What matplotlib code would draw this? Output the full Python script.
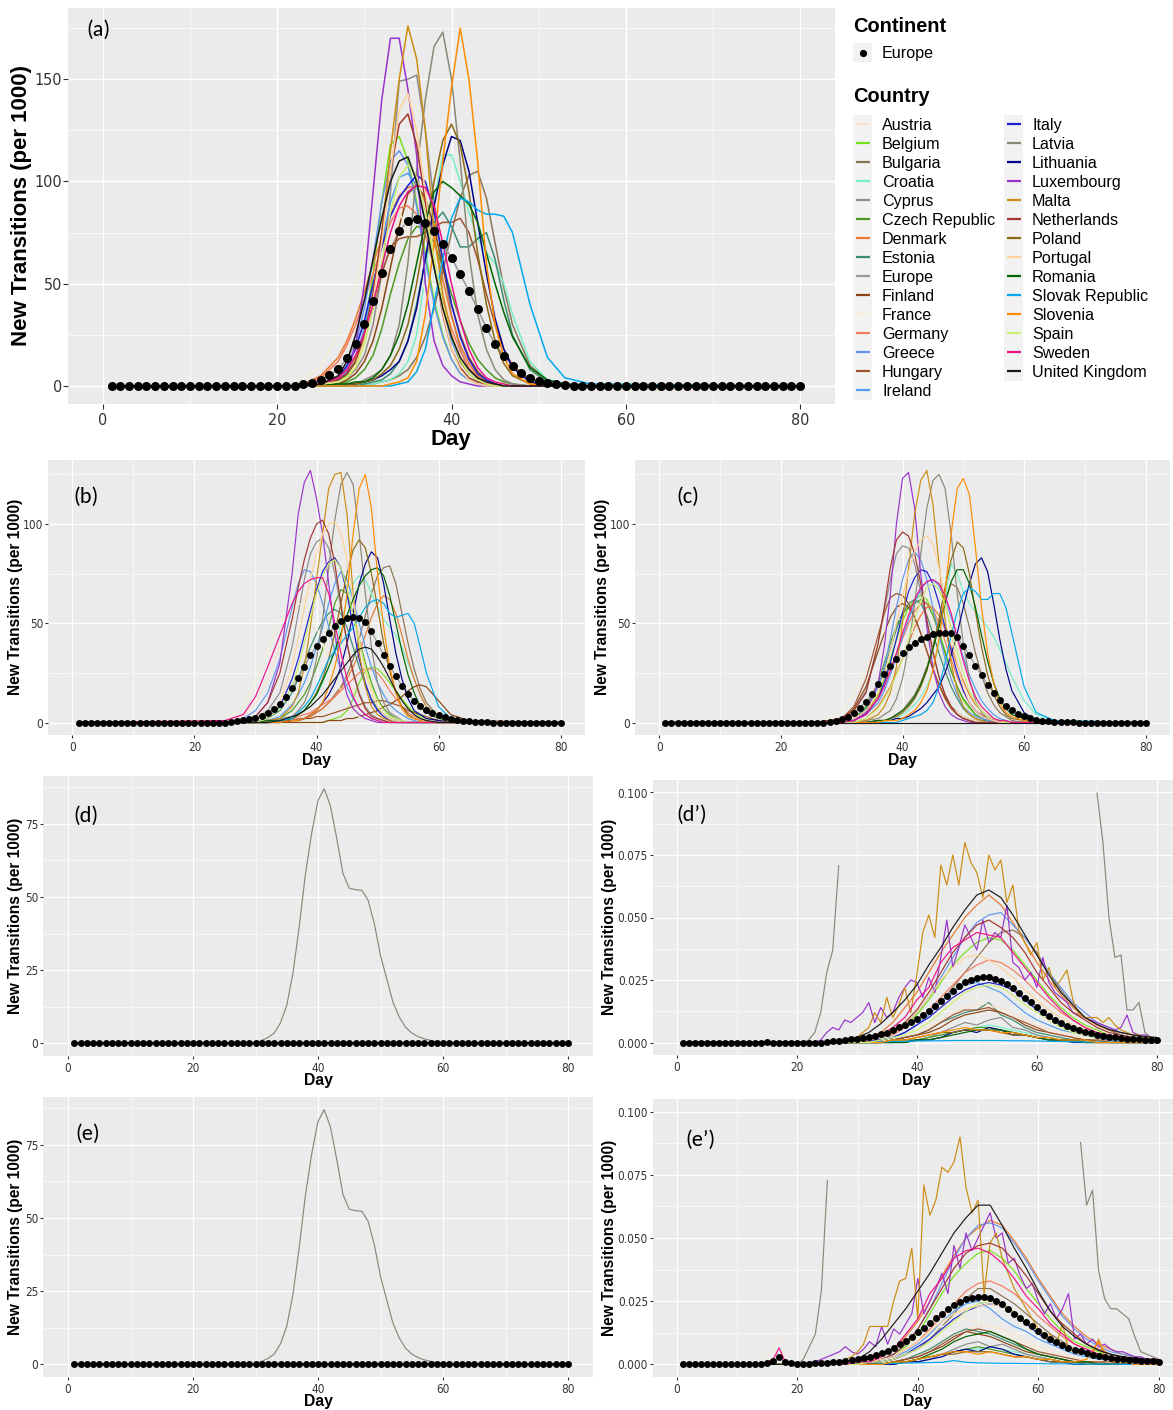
import numpy as np
import matplotlib
matplotlib.use("Agg")
import matplotlib.pyplot as plt
from matplotlib import font_manager as fm
from matplotlib.patches import Rectangle

W, H = 1173, 1410

COUNTRIES = ["Austria", "Belgium", "Bulgaria", "Croatia", "Cyprus", "Czech Republic",
             "Denmark", "Estonia", "Europe", "Finland", "France", "Germany", "Greece",
             "Hungary", "Ireland", "Italy", "Latvia", "Lithuania", "Luxembourg", "Malta",
             "Netherlands", "Poland", "Portugal", "Romania", "Slovak Republic", "Slovenia",
             "Spain", "Sweden", "United Kingdom"]

COLORS = {
    "Austria": "#FCE3CF", "Belgium": "#76E21A", "Bulgaria": "#8B7355", "Croatia": "#76EEC6",
    "Cyprus": "#8C8C8C", "Czech Republic": "#4A9A22", "Denmark": "#E8782E", "Estonia": "#3C8C70",
    "Europe": "#999999", "Finland": "#8B4513", "France": "#F5EFD6", "Germany": "#F47B5E",
    "Greece": "#6495ED", "Hungary": "#A0522D", "Ireland": "#529CF2", "Italy": "#1E1ED2",
    "Latvia": "#8B8878", "Lithuania": "#00008B", "Luxembourg": "#9A32CD", "Malta": "#CD8C12",
    "Netherlands": "#A3362E", "Poland": "#8B6914", "Portugal": "#FFD39B", "Romania": "#006400",
    "Slovak Republic": "#00A8EE", "Slovenia": "#FF8C00", "Spain": "#CAEE70", "Sweden": "#EE1289",
    "United Kingdom": "#1A1A1A",
}

DAYS = list(range(1, 81))

# ---------------- panel (a) ----------------
A_GRID = [21, 23, 25, 27, 28, 29, 30, 31, 32, 33, 34, 35, 36, 37, 38, 39, 40, 41, 42, 43,
          44, 45, 46, 47, 49, 51, 53, 56]
A = {
    "Austria":        [0,0,1,2,3,8,15,28,45,65, 82,93,95,86,68,48,30,17,9,4, 2,1,0,0,0,0,0,0],
    "Belgium":        [0,0,1,3,5,12,28,55,90,118, 122,110,90,65,42,25,13,6,3,1, 0,0,0,0,0,0,0,0],
    "Bulgaria":       [0,0,0,0,0,0,1,1,2,3, 5,8,14,24,38,56,75,92,103,105, 92,70,48,30,10,3,1,0],
    "Croatia":        [0,0,0,0,0,0,1,1,2,3, 6,12,25,55,90,113,113,100,85,72, 65,60,50,35,12,3,1,0],
    "Cyprus":         [0,0,0,2,4,8,15,30,55,95, 149,150,152,125,90,60,35,18,8,4, 2,1,0,0,0,0,0,0],
    "Czech Republic": [0,0,0,1,2,4,8,15,28,45, 60,72,78,77,70,58,45,32,21,13, 8,4,2,1,0,0,0,0],
    "Denmark":        [0,1,5,14,22,33,46,60,72,84, 93,97,98,90,72,52,34,20,11,5, 2,1,0,0,0,0,0,0],
    "Estonia":        [0,0,0,0,0,0,1,2,3,6, 12,22,40,62,80,85,78,68,68,72, 75,62,42,25,8,2,0,0],
    "Finland":        [0,0,0,1,3,6,12,22,38,58, 78,94,98,92,78,58,40,25,14,7, 3,1,0,0,0,0,0,0],
    "France":         [0,3,10,25,36,50,65,78,86,88, 85,76,62,46,32,20,12,6,3,1, 0,0,0,0,0,0,0,0],
    "Germany":        [0,1,4,12,20,30,42,55,68,80, 87,88,84,74,58,42,28,17,9,4, 2,1,0,0,0,0,0,0],
    "Greece":         [0,0,1,4,9,20,38,62,90,110, 115,108,88,62,40,24,13,6,3,1, 0,0,0,0,0,0,0,0],
    "Hungary":        [0,0,1,3,6,12,22,38,55,68, 72,73,73,75,78,80,80,82,75,62, 45,30,18,10,3,1,0,0],
    "Ireland":        [0,0,1,3,7,14,28,48,70,90, 102,104,98,80,58,38,22,12,6,3, 1,0,0,0,0,0,0,0],
    "Italy":          [0,0,1,4,10,18,32,50,68,83, 92,98,103,100,85,62,40,24,13,6, 3,1,0,0,0,0,0,0],
    "Latvia":         [0,0,0,0,0,1,3,5,8,15, 30,60,105,140,166,173,150,110,65,35, 18,8,3,1,0,0,0,0],
    "Lithuania":      [0,0,0,0,1,1,2,3,5,8, 12,22,38,62,88,108,122,120,105,80, 55,33,18,9,2,0,0,0],
    "Luxembourg":     [0,0,1,3,6,20,50,95,140,170, 170,145,113,50,22,10,5,2,1,0, 0,0,0,0,0,0,0,0],
    "Malta":          [0,0,1,4,8,14,25,45,75,115, 150,176,160,125,75,45,25,12,6,3, 1,0,0,0,0,0,0,0],
    "Netherlands":    [0,0,1,3,6,12,25,45,75,105, 128,133,118,90,60,35,18,9,4,2, 1,0,0,0,0,0,0,0],
    "Poland":         [0,0,0,0,1,1,2,3,6,10, 18,30,50,75,100,120,128,118,95,65, 40,22,11,5,1,0,0,0],
    "Portugal":       [0,0,1,2,4,10,22,42,70,105, 135,143,125,95,62,36,18,8,3,1, 0,0,0,0,0,0,0,0],
    "Romania":        [0,0,0,1,1,2,2,4,8,15, 25,40,60,80,95,100,97,93,89,80, 65,50,36,24,9,3,1,0],
    "Slovak Republic":[0,0,0,0,0,0,0,0,0,0, 1,2,7,18,40,62,82,92,90,86, 84,84,83,75,40,14,4,1],
    "Slovenia":       [0,0,0,0,0,0,0,0,0,1, 2,4,12,35,70,110,146,175,150,110, 60,30,14,6,1,0,0,0],
    "Spain":          [0,0,1,2,4,9,20,38,60,85, 102,108,102,85,62,40,24,13,6,3, 1,0,0,0,0,0,0,0],
    "Sweden":         [0,0,1,4,8,15,26,40,58,75, 88,95,98,97,88,70,50,32,18,9, 4,2,1,0,0,0,0,0],
    "United Kingdom": [0,0,1,5,12,25,42,62,82,100, 110,112,100,80,58,38,24,14,8,4, 2,1,0,0,0,0,0,0],
}
A_EUROPE = [0] * 22 + [0.8, 1.6, 2.9, 5.4, 8.2, 13.5, 20.4, 30.2, 41.6, 55.4,
                       66.9, 75.8, 80.7, 81.5, 79.9, 75.8, 69.3, 62.8, 54.6, 46.5,
                       37.5, 28.5, 20.4, 14.7, 9.8, 6.5, 4.1, 2.4, 1.6, 0.8,
                       0.4, 0.2] + [0] * 26

# ---------------- panels (b) and (c) ----------------
BC_GRID = [25, 28, 30, 32, 34, 36, 37, 38, 39, 40, 41, 42, 43, 44, 45, 46, 47, 48, 49, 50,
           51, 52, 53, 54, 55, 56, 57, 58, 60, 62, 65]
B = {
    "Austria":        [1,3,10,22,38,53,59,63,65,64, 60,52,42,32,23,16,10,6,4,2, 1,0,0,0,0,0,0,0,0,0, 0],
    "Belgium":        [0,0,0,0,0,0,0,0,0,0, 0,1,2,3,6,12,20,26,28,27, 24,20,16,12,8,5,3,2,1,0, 0],
    "Bulgaria":       [0,0,0,0,1,1,2,2,3,5, 7,10,14,18,24,32,42,54,65,74, 78,79,70,55,40,27,17,10,3,1, 0],
    "Croatia":        [0,0,0,0,1,2,4,6,10,14, 20,28,38,50,62,70,74,72,65,58, 52,48,44,38,30,22,14,8,3,1, 0],
    "Cyprus":         [0,1,2,6,15,38,55,72,85,91, 93,88,75,58,40,26,15,8,4,2, 1,0,0,0,0,0,0,0,0,0, 0],
    "Czech Republic": [0,0,0,0,2,6,10,14,20,28, 37,48,60,67,65,55,42,30,20,12, 7,4,2,1,0,0,0,0,0,0, 0],
    "Denmark":        [0,0,0,0,1,1,2,2,3,5, 7,10,13,17,22,28,35,44,53,60, 64,62,55,44,32,22,14,8,3,1, 0],
    "Estonia":        [0,0,0,2,6,15,22,30,38,45, 51,55,57,55,48,38,28,19,12,7, 4,2,1,0,0,0,0,0,0,0, 0],
    "Finland":        [0,0,0,0,0,0,0,0,0,0, 0,1,1,1,2,2,3,4,5,6, 8,9,11,13,16,18,19,18,11,4, 1],
    "France":         [1,8,20,36,51,59,60,59,55,48, 40,31,23,16,10,6,3,2,1,0, 0,0,0,0,0,0,0,0,0,0, 0],
    "Germany":        [0,0,0,0,1,2,3,4,5,7, 9,11,13,16,19,22,25,27,27,25, 21,16,12,8,5,3,2,1,0,0, 0],
    "Greece":         [0,2,6,15,32,58,70,77,76,70, 60,48,36,26,18,12,7,4,2,1, 0,0,0,0,0,0,0,0,0,0, 0],
    "Hungary":        [0,0,0,0,0,1,1,2,2,3, 3,4,5,6,7,8,9,10,10,11, 11,10,9,8,6,5,4,3,1,0, 0],
    "Ireland":        [0,0,0,1,3,9,14,20,28,38, 48,60,70,76,72,62,50,38,28,20, 14,9,6,4,2,1,0,0,0,0, 0],
    "Italy":          [0,0,0,2,8,22,32,44,56,67, 76,81,83,78,65,48,32,20,11,6, 3,1,0,0,0,0,0,0,0,0, 0],
    "Latvia":         [0,0,0,1,2,3,6,10,18,32, 52,78,102,120,126,120,95,65,38,20, 10,5,3,1,0,0,0,0,0,0, 0],
    "Lithuania":      [0,0,0,0,0,1,1,2,4,6, 10,14,20,28,40,55,70,80,86,83, 70,52,35,22,12,6,4,2,1,0, 0],
    "Luxembourg":     [0,1,3,10,30,75,105,121,127,113, 95,70,45,26,14,7,4,2,1,0, 0,0,0,0,0,0,0,0,0,0, 0],
    "Malta":          [0,0,0,1,2,8,15,28,48,72, 95,118,125,126,105,65,35,18,8,4, 2,1,0,0,0,0,0,0,0,0, 0],
    "Netherlands":    [0,1,3,10,25,52,68,82,93,100, 102,95,80,60,40,25,14,7,3,2, 1,0,0,0,0,0,0,0,0,0, 0],
    "Poland":         [0,0,0,0,1,2,4,6,10,15, 22,32,45,60,75,87,92,88,75,58, 40,26,15,8,4,2,1,0,0,0, 0],
    "Portugal":       [0,0,1,3,10,28,42,58,72,85, 95,100,101,96,82,62,42,26,15,8, 4,2,1,0,0,0,0,0,0,0, 0],
    "Romania":        [0,0,0,1,1,2,4,6,10,14, 21,28,36,45,54,62,69,74,77,78, 74,64,50,36,24,15,8,5,2,1, 0],
    "Slovak Republic":[0,0,0,0,1,2,5,8,12,18, 25,32,36,40,44,48,53,58,61,62, 60,55,53,54,55,50,38,25,8,2, 0],
    "Slovenia":       [0,0,0,0,0,1,1,2,4,6, 10,18,28,42,65,95,118,125,108,75, 48,28,15,7,3,2,1,0,0,0, 0],
    "Spain":          [0,0,0,2,7,18,28,40,53,65, 74,80,82,78,68,54,40,28,18,11, 6,3,2,1,0,0,0,0,0,0, 0],
    "Sweden":         [1,4,13,28,44,60,66,70,72,73, 73,65,50,35,22,13,7,4,2,1, 0,0,0,0,0,0,0,0,0,0, 0],
    "United Kingdom": [0,0,0,0,1,3,4,6,8,11, 14,18,22,26,30,34,37,38,37,33, 28,22,16,11,7,4,2,1,0,0, 0],
}
B_EUROPE = [0] * 25 + [0.5, 0.8, 1.2, 1.8, 2.5, 3.5, 5, 6.8, 9.5, 13,
                       17.5, 22.5, 28, 34, 38.5, 42, 45, 48.5, 51, 52.5,
                       53, 52.5, 50.5, 46, 40, 34, 28.5, 23.5, 18.5, 14.5,
                       11, 8.5, 6.5, 5, 3.7, 2.7, 2, 1.4, 1, 0.7,
                       0.5, 0.3, 0.2] + [0] * 12

C = {
    "Austria":        [0,0,0,2,6,16,24,32,40,48, 55,60,60,56,48,38,28,19,12,7, 4,2,1,1,0,0,0,0,0,0, 0],
    "Belgium":        [0,0,0,1,5,14,22,32,42,51, 58,62,64,62,56,46,36,26,18,11, 7,4,2,1,0,0,0,0,0,0, 0],
    "Bulgaria":       [0,0,0,0,0,1,1,2,4,6, 10,14,20,28,38,50,62,70,68,60, 48,35,24,15,9,5,3,1,0,0, 0],
    "Croatia":        [0,0,0,0,0,0,1,1,2,4, 6,9,13,18,26,40,62,80,75,66, 60,56,52,48,43,37,30,23,11,4, 1],
    "Cyprus":         [0,1,2,6,16,40,56,72,85,89, 88,80,66,50,35,23,14,8,4,2, 1,0,0,0,0,0,0,0,0,0, 0],
    "Czech Republic": [0,0,0,2,8,20,30,40,49,55, 58,60,62,60,54,45,35,26,18,12, 8,4,2,1,0,0,0,0,0,0, 0],
    "Denmark":        [0,0,0,0,2,8,13,18,25,32, 40,48,54,58,58,54,47,38,29,21, 14,9,6,3,2,1,0,0,0,0, 0],
    "Estonia":        [0,0,0,2,7,18,27,37,47,55, 60,62,60,54,45,35,26,18,12,7, 4,2,1,1,0,0,0,0,0,0, 0],
    "Finland":        [0,0,2,7,18,36,45,53,58,60, 58,53,45,36,27,19,13,8,5,3, 2,1,0,0,0,0,0,0,0,0, 0],
    "France":         [0,2,6,14,26,40,46,50,52,52, 49,44,37,29,22,16,11,7,5,3, 2,1,0,0,0,0,0,0,0,0, 0],
    "Germany":        [0,0,0,1,5,13,20,27,35,42, 50,56,60,60,57,50,41,32,23,16, 10,6,4,2,1,0,0,0,0,0, 0],
    "Greece":         [0,0,1,2,6,18,28,42,58,72, 82,86,82,72,58,44,32,22,14,8, 5,3,2,1,0,0,0,0,0,0, 0],
    "Hungary":        [0,1,2,8,22,44,55,63,65,64, 60,53,45,36,27,19,12,7,4,2, 1,0,0,0,0,0,0,0,0,0, 0],
    "Ireland":        [0,0,0,1,4,10,16,24,33,43, 52,60,67,71,72,69,62,53,43,33, 24,17,11,7,4,2,1,0,0,0, 0],
    "Italy":          [0,0,0,1,4,12,20,30,42,55, 66,73,77,76,70,60,48,36,25,16, 10,6,3,2,1,0,0,0,0,0, 0],
    "Latvia":         [0,0,0,0,1,2,4,6,12,22, 38,60,85,108,122,125,118,95,65,40, 22,11,5,2,1,0,0,0,0,0, 0],
    "Lithuania":      [0,0,0,0,0,1,1,1,2,2, 3,5,7,10,14,18,25,34,45,58, 70,80,83,76,60,42,27,16,5,1, 0],
    "Luxembourg":     [0,0,0,1,5,20,38,65,100,123, 126,108,75,48,28,15,8,4,2,1, 0,0,0,0,0,0,0,0,0,0, 0],
    "Malta":          [0,0,0,0,1,4,8,15,28,50, 78,105,122,127,110,80,52,30,16,8, 4,2,1,0,0,0,0,0,0,0, 0],
    "Netherlands":    [0,1,2,6,15,40,58,78,92,96, 94,85,70,52,36,23,14,8,4,2, 1,0,0,0,0,0,0,0,0,0, 0],
    "Poland":         [0,0,0,0,0,1,1,2,3,5, 8,12,18,26,38,52,68,82,91,88, 75,56,38,24,14,8,4,2,1,0, 0],
    "Portugal":       [0,0,1,2,6,15,24,36,50,64, 76,86,92,94,90,78,62,45,30,18, 10,6,3,2,1,0,0,0,0,0, 0],
    "Romania":        [0,0,0,0,0,1,1,2,4,6, 9,13,19,27,37,48,60,71,77,77, 70,58,44,31,20,12,7,4,2,1, 0],
    "Slovak Republic":[0,0,0,0,0,0,0,0,0,1, 2,3,4,6,10,18,30,44,56,65, 68,66,62,62,65,65,58,45,18,5, 1],
    "Slovenia":       [0,0,0,0,0,0,1,1,1,2, 4,6,10,16,26,42,65,95,118,123, 115,88,58,35,20,10,5,3,1,0, 0],
    "Spain":          [0,0,0,0,2,7,12,17,24,32, 42,52,61,68,70,67,59,48,36,25, 16,10,6,3,2,1,0,0,0,0, 0],
    "Sweden":         [0,0,0,1,4,12,18,26,35,45, 54,62,68,71,72,70,64,55,43,31, 21,13,8,5,2,1,1,0,0,0, 0],
    "United Kingdom": [0,0,0,0,0,0,0,0,0,0, 0,0,0,0,0,0,0,0,0,0, 0,0,0,0,0,0,0,0,0,0, 0],
}
C_EUROPE = [0] * 27 + [0.5, 1, 1.8, 3, 5, 7.5, 10.5, 14.5, 19.5, 24.5,
                       28.5, 32, 35, 38, 40, 42, 43.3, 44.5, 45, 45.2,
                       45, 43, 38.5, 34, 28.5, 24, 19, 15, 11.2, 8.3,
                       6.1, 4.4, 3.2, 2.2, 1.5, 1, 0.7, 0.5, 0.3, 0.2,
                       0.1] + [0] * 12

# ---------------- panels (d) and (e): Latvia, full scale ----------------
DE_GRID = list(range(29, 61))
D_LATVIA = [0, 0.3, 1, 2, 3.5, 7, 13, 24, 40, 58, 72, 83, 87, 81, 70, 58, 53, 52.5, 52.3, 49,
            41, 30, 22, 14, 9, 5.5, 3.5, 2.3, 1.5, 1, 0.5, 0.2]
E_LATVIA = [0, 0.3, 1, 2, 3.5, 7, 13, 24, 40, 58, 72, 83, 87, 81, 70, 58, 53, 52.5, 52.3, 49,
            41, 30, 22, 14, 9, 5.5, 3.5, 2.3, 1.5, 1, 0.5, 0.2]

# ---------------- panel (d'): values in thousandths (x 0.001) ----------------
DP_GRID = list(range(20, 81, 2))
DP = {
    "Austria":        [0,0,0,0,0,0,0,1,1,2, 4,6,9,12,14,15,15,14,12,9, 7,5,4,3,2,1,1,1,0,0,0],
    "Belgium":        [0,0,0,0,0,0,1,2,4,7, 11,17,24,31,36,40,42,41,37,31, 25,19,14,10,7,5,3,2,2,1,1],
    "Bulgaria":       [0,0,0,0,0,0,0,1,2,4, 7,11,16,22,28,34,40,44,45,42, 36,28,21,15,10,7,5,3,2,1,1],
    "Croatia":        [0,0,0,0,0,0,0,0,0,1, 1,2,3,4,5,6,7,6,5,4, 3,2,1,1,1,0,0,0,0,0,0],
    "Cyprus":         [0,0,0,0,0,0,0,0,0,1, 1,2,4,6,8,7,9,10,6,5, 3,2,1,1,1,0,0,0,0,0,0],
    "Czech Republic": [0,0,0,0,0,0,0,0,0,1, 1,2,3,4,5,6,6,5,4,3, 2,2,1,1,0,0,0,0,0,0,0],
    "Denmark":        [0,0,0,0,0,1,2,4,8,14, 20,28,36,43,50,55,59,55,48,40, 32,25,19,14,10,7,5,4,3,2,1],
    "Estonia":        [0,0,0,0,0,0,0,0,1,2, 3,5,8,10,12,13,16,11,9,6, 4,3,2,1,1,1,0,0,0,0,0],
    "Finland":        [0,0,0,0,0,0,0,0,1,2, 3,4,6,9,11,12,13,12,10,7, 5,4,3,2,1,1,0,0,0,0,0],
    "France":         [0,0,0,0,0,1,1,2,4,6, 9,12,15,17,18,17,15,13,10,8, 6,4,3,2,2,1,1,1,0,0,0],
    "Germany":        [0,0,0,0,0,0,1,2,3,6, 9,13,18,23,28,31,33,32,29,25, 20,16,12,9,6,4,3,2,1,1,1],
    "Greece":         [0,0,0,0,0,0,1,2,4,7, 12,18,26,34,42,48,51,52,47,42, 35,28,22,16,12,8,6,4,3,2,1],
    "Hungary":        [0,0,0,0,0,0,0,0,1,2, 3,5,8,11,13,13,14,12,10,8, 6,4,3,2,1,1,1,0,0,0,0],
    "Ireland":        [0,0,0,0,0,0,1,1,2,4, 7,11,16,20,23,24,22,20,16,12, 9,7,5,4,3,2,1,1,1,1,1],
    "Italy":          [0,0,0,0,0,0,1,1,2,4, 7,10,14,18,21,23,24,23,21,17, 13,10,7,5,4,3,2,2,1,1,1],
    "Lithuania":      [0,0,0,0,0,0,0,0,0,0, 1,1,2,4,5,4,6,5,3,3, 2,1,1,0,0,0,0,0,0,0,0],
    "Netherlands":    [0,0,0,0,0,0,1,2,4,8, 13,20,28,36,42,47,49,46,42,36, 28,22,16,12,9,6,4,3,2,1,1],
    "Poland":         [0,0,0,0,0,0,0,0,1,1, 2,3,4,4,5,5,5,4,3,3, 2,1,1,1,0,0,0,0,0,0,0],
    "Portugal":       [0,0,0,0,0,0,1,2,4,7, 12,18,25,30,34,35,33,30,26,21, 17,13,10,7,5,4,3,2,1,1,1],
    "Romania":        [0,0,0,0,0,0,0,0,0,0, 1,1,2,3,4,5,5,5,4,3, 2,1,1,1,0,0,0,0,0,0,0],
    "Slovak Republic":[0,0,0,0,0,0,0,0.2,0.4,0.5, 0.6,0.7,0.7,0.8,0.8,0.8,0.8,0.8,0.7,0.7,
                       0.6,0.5,0.4,0.3,0.2,0.2,0.1,0.1,0,0,0],
    "Slovenia":       [0,0,0,0,0,0,0,0,1,1, 2,3,4,5,6,5,5,4,4,3, 2,2,1,1,1,0,0,0,0,0,0],
    "Spain":          [0,0,0,0,0,0,0,1,2,3, 5,8,12,16,20,22,23,22,19,15, 12,9,6,4,3,2,2,1,1,1,1],
    "Sweden":         [0,0,0,0,0,1,1,3,6,10, 17,22,32,38,41,44,43,42,36,30, 24,18,13,9,6,4,3,2,1,1,1],
    "United Kingdom": [0,0,0,0.5,1,2,4,7.5,12,17, 23,31,38,46,53,59,61,58,51,43,
                       35,27,20,15,10,7.3,5.2,4,3,2.4,2],
}
DAILY_20_80 = list(range(20, 81))
DP_LUXEMBOURG = [0,0,0,0,1,4,6,5,9,8, 10,12,16,8,14,10,12,18,22,25,
                 24,18,26,20,34,49,30,38,47,42, 37,49,40,44,42,55,32,30,25,28,
                 22,34,24,20,18,16,12,11,10,9, 8,7,6,5,6,11,4,3,3,2, 2]
DP_MALTA = [0,0,0,0,0,0,0.5,0.5,1,1, 2,4,6,12,8,18,10,15,22,12,
            27,44,51,42,71,63,75,63,80,72, 68,58,75,69,73,56,63,45,40,35,
            40,25,30,22,25,29,17,11,10,10, 10,8,10,7,5,4,3,3,2,2, 1]
DP_LATVIA_EARLY_DAYS = [20, 21, 22, 23, 24, 25, 26, 27]
DP_LATVIA_EARLY = [0, 0, 1, 4, 12, 28, 37, 71]
DP_LATVIA_LATE_DAYS = [70, 71, 72, 73, 74, 75, 76, 77, 78, 79, 80]
DP_LATVIA_LATE = [100, 80, 50, 34, 35, 13, 13, 16, 4, 2, 1]
DP_EUROPE = [0] * 14 + [0.3] + [0] * 9 + [
    0.3, 0.5, 0.7, 1.0, 1.3, 1.6, 2.0, 2.4, 2.8, 3.3,
    4.0, 5.0, 6.1, 7.1, 8.3, 9.6, 11.0, 12.7, 14.7, 16.7,
    18.7, 20.7, 22.5, 24.1, 25.2, 26.0, 26.4, 26.4, 25.6, 24.6,
    23.3, 21.8, 19.8, 18.0, 16.2, 14.2, 12.3, 10.6, 9.2, 7.9,
    6.8, 5.9, 5.0, 4.4, 3.7, 3.2, 2.7, 2.4, 2.1, 1.9,
    1.6, 1.5, 1.4, 1.2, 1.1, 1.0]

# ---------------- panel (e'): values in thousandths (x 0.001) ----------------
EP_GRID = [14, 16, 17, 18] + list(range(20, 81, 2))
EP = {
    "Austria":        [0,0,0,0, 0,0,0,0,0,0,0,1,1,2, 4,6,9,12,14,15,15,14,12,9, 7,5,4,3,2,1,1,1,0,0,0],
    "Belgium":        [0,0,0,0, 0,0,0,0,0,0,1,2,4,7, 12,20,28,35,40,44,45,42,37,30, 24,18,13,9,7,5,3,2,2,1,1],
    "Bulgaria":       [0,0,0,0, 0,0,0,0,0,0,0,1,2,4, 6,10,15,20,26,30,30,27,24,20, 16,12,9,6,4,3,2,1,1,1,1],
    "Croatia":        [0,0,0,0, 0,0,0,0,0,0,0,0,0,1, 2,3,4,5,6,6,7,6,5,4, 3,2,1,1,1,0,0,0,0,0,0],
    "Cyprus":         [0,0,0,0, 0,0,0,0,0,0,0,0,0,1, 1,2,4,6,8,9,7,8,6,4, 3,2,1,1,1,0,0,0,0,0,0],
    "Czech Republic": [0,0,0,0, 0,0,0,0,0,0,0,0,0,1, 2,3,4,5,6,7,6,5,4,3, 2,2,1,1,0,0,0,0,0,0,0],
    "Denmark":        [0,0,0,0, 0,0,0,0,0,1,2,3,6,11, 17,25,35,43,50,54,57,55,49,42, 34,27,20,15,11,8,6,4,3,2,2],
    "Estonia":        [0,0,0,0, 0,0,0,0,0,0,0,0,1,2, 4,6,9,12,14,13,12,10,8,6, 4,3,2,1,1,1,0,0,0,0,0],
    "Finland":        [0,0,0,0, 0,0,0,0,0,0,0,0,1,2, 3,5,7,10,13,12,11,9,7,5, 4,3,2,1,1,1,0,0,0,0,0],
    "France":         [1,6,12,2, 0,0,0,0,1,2,3,4,6,8, 10,13,15,17,18,17,15,13,10,8, 6,4,3,2,2,1,1,1,0,0,0],
    "Germany":        [0,0,0,0, 0,0,0,0,0,0,1,2,3,6, 9,14,19,24,29,32,33,31,28,24, 19,15,11,8,6,4,3,2,1,1,1],
    "Greece":         [0,0,0,0, 0,0,0,0,0,0,1,2,4,8, 14,22,32,42,50,55,56,54,48,41, 33,26,19,14,10,7,5,4,3,2,1],
    "Hungary":        [0,0,0,0, 0,0,0,0,0,0,0,0,1,2, 3,5,8,11,13,14,13,11,9,7, 5,4,3,2,1,1,1,0,0,0,0],
    "Ireland":        [0,0,0,0, 0,0,0,0,0,0,1,2,3,5, 8,12,17,21,24,25,22,18,15,13, 10,8,6,4,3,2,2,1,1,1,1],
    "Italy":          [0,0,0,0, 0,0,0,0,0,0,1,1,2,4, 7,10,14,18,21,23,24,23,20,16, 12,9,7,5,4,3,2,2,1,1,1],
    "Lithuania":      [0,0,0,0, 0,0,0,0,0,0,0,0,0,1, 1,2,3,5,6,5,7,6,4,3, 2,1,1,0,0,0,0,0,0,0,0],
    "Netherlands":    [0,0,0,0, 0,0,0,0,0,0,1,2,4,8, 14,22,30,38,44,47,48,46,41,35, 28,21,16,12,8,6,4,3,2,1,1],
    "Poland":         [0,0,0,0, 0,0,0,0,0,0,0,0,1,1, 2,3,4,4,5,5,5,4,3,3, 2,1,1,1,0,0,0,0,0,0,0],
    "Portugal":       [0,0,0,0, 0,0,0,0,0,0,1,2,3,6, 9,13,17,20,22,23,24,23,20,17, 14,11,8,6,4,3,2,2,1,1,1],
    "Romania":        [0,0,0,0, 0,0,0,0,0,0,0,0,1,1, 2,4,6,9,11,12,13,11,9,6, 4,3,2,1,1,0,0,0,0,0,0],
    "Slovak Republic":[0,0,0,0, 0,0,0,0,0,0,0,0.2,0.4,0.5, 0.6,0.7,0.8,1.5,0.8,0.6,0.5,0.4,0.4,0.3,
                       0.3,0.2,0.2,0.1,0.1,0.1,0.1,0,0,0,0],
    "Slovenia":       [0,0,0,0, 0,0,0,0,0,0,0,0,1,1, 2,3,4,5,5,4,5,4,3,3, 2,2,1,1,2,9,1,1,0,0,0],
    "Spain":          [0,0,0,0, 0,0,0,0,0,0,1,1,2,4, 6,9,13,17,21,24,25,24,21,17, 13,10,7,5,4,3,2,2,1,1,1],
    "Sweden":         [0,2,6.5,1, 0,0,0,0,0,1,1,3,6,12, 18,28,34,42,45,46,44,40,34,27, 22,16,12,8,6,4,3,2,1,1,1],
    "United Kingdom": [0,0,0,0, 0,0,0,0.5,1,2,5,10,16,22, 29,36,44,52,58,63,63,55,46,38,
                       29,21,15,11,8,5.5,4,3,2.5,2,1.8],
}
EP_LUXEMBOURG = [0,0,1,1,2,3,4,5,7,5, 4,6,9,7,15,8,14,12,16,20,
                 34,20,25,30,36,28,47,38,52,45, 50,55,60,50,52,40,42,35,30,32,
                 25,20,24,18,22,28,10,12,8,10, 7,8,6,5,5,4,3,3,2,2, 2]
EP_MALTA = [0,0,0,0,0,0,0.5,1,2,3, 5,8,15,15,15,15,25,33,34,46,
            18,71,59,65,78,76,80,90,70,60, 65,28,48,52,42,36,30,26,22,18,
            14,10,12,8,16,6,5,4,5,4, 10,3,3,2,2,2,2,1,1,1, 1]
EP_LATVIA_EARLY_DAYS = [20, 21, 22, 23, 24, 25]
EP_LATVIA_EARLY = [0, 2, 7, 12, 29, 73]
EP_LATVIA_LATE_DAYS = list(range(67, 81))
EP_LATVIA_LATE = [88, 63, 69, 37, 26, 22, 22, 20, 18, 11, 5, 4, 3, 2]
EP_EUROPE = [0] * 13 + [
    0.2, 0.5, 1.5, 2.8, 0.8, 0.4, 0.3, 0.3, 0.3, 0.4,
    0.5, 0.6, 0.8, 1.0, 1.3, 1.7, 2.1, 2.6, 3.1, 3.8,
    4.5, 5.4, 6.6, 7.9, 9.4, 11.0, 12.7, 14.5, 16.4, 18.2,
    20.1, 21.9, 23.4, 24.7, 25.7, 26.4, 26.8, 26.8, 26.3, 25.2,
    23.8, 22.0, 20.1, 18.3, 16.6, 15.0, 13.3, 11.6, 10.1, 8.7,
    7.5, 6.6, 5.8, 5.1, 4.4, 3.8, 3.3, 2.9, 2.6, 2.3,
    2.0, 1.8, 1.6, 1.4, 1.3, 1.2, 1.1]

# ---------------- fonts ----------------
_names = {f.name for f in fm.fontManager.ttflist}
if "Liberation Sans Narrow" in _names:
    TICK_FAMILY, TICK_STRETCH = "Liberation Sans Narrow", "normal"
elif any(f.name == "DejaVu Sans" and f.stretch == "condensed" for f in fm.fontManager.ttflist):
    TICK_FAMILY, TICK_STRETCH = "DejaVu Sans", "condensed"
else:
    TICK_FAMILY, TICK_STRETCH = "Liberation Sans", "normal"
SANS = "Liberation Sans" if "Liberation Sans" in _names else "DejaVu Sans"
LABEL_FAMILY = "Carlito" if "Carlito" in _names else ("Lato" if "Lato" in _names else SANS)

fig = plt.figure(figsize=(W / 100, H / 100), dpi=100)
fig.patch.set_facecolor("white")


def add_ax(l, t, r, b):
    return fig.add_axes([l / W, 1 - b / H, (r - l) / W, (b - t) / H])


def style(ax, ylim, yticks, yminor, ylabels, tick_fs, tick_len, big):
    ax.set_facecolor("#EBEBEB")
    for s in ax.spines.values():
        s.set_visible(False)
    ax.set_xlim(-4, 84)
    ax.set_ylim(*ylim)
    ax.set_xticks([0, 20, 40, 60, 80])
    ax.set_xticks([10, 30, 50, 70], minor=True)
    ax.set_yticks(yticks)
    ax.set_yticks(yminor, minor=True)
    fp = fm.FontProperties(family=TICK_FAMILY, stretch=TICK_STRETCH, size=tick_fs)
    ax.set_xticklabels(["0", "20", "40", "60", "80"], fontproperties=fp, color="#333333")
    ax.set_yticklabels(ylabels, fontproperties=fp, color="#333333")
    ax.grid(which="major", color="white", lw=1.0 if big else 0.8)
    ax.grid(which="minor", color="white", lw=0.5 if big else 0.4)
    ax.set_axisbelow(True)
    ax.tick_params(which="minor", length=0)
    ax.tick_params(axis="x", which="major", length=tick_len, width=0.8, color="#333333",
                   pad=3 if big else 2)
    ax.tick_params(axis="y", which="major", length=tick_len, width=0.8, color="#333333",
                   pad=1 if big else 1.2)


def line(ax, days, vals, color, lw, scale=1.0, pad_start=True, pad_end=True):
    d = list(days)
    v = [float(x) for x in vals]
    if len(d) != len(v):
        raise ValueError("length mismatch %d vs %d" % (len(d), len(v)))
    if pad_start and d[0] > 1:
        d, v = [1] + d, [0.0] + v
    if pad_end and d[-1] < 80:
        d, v = d + [80], v + [0.0]
    ax.plot(d, np.array(v) * scale, color=color, lw=lw, zorder=2,
            solid_joinstyle="round", solid_capstyle="butt")


def draw(ax, grid, data, europe, lw, ms, scale=1.0, extra=None):
    extra = extra or {}
    for c in COUNTRIES:
        if c == "Europe":
            line(ax, DAYS, europe, COLORS[c], lw, scale)
            continue
        if c in extra:
            for (d, v, ps, pe, sc) in extra[c]:
                line(ax, d, v, COLORS[c], lw, sc, ps, pe)
            continue
        line(ax, grid, data[c], COLORS[c], lw, scale)
    ax.plot(DAYS, np.array(europe, float) * scale, "o", color="black", ms=ms, mew=0, zorder=3)


# panel geometry (pixels: left, top, right, bottom)
ax_a = add_ax(68, 8, 835, 404)
ax_b = add_ax(48, 460, 585, 735)
ax_c = add_ax(635, 460, 1170, 735)
ax_d = add_ax(43, 776, 593, 1056)
ax_dp = add_ax(652.6, 780, 1181, 1055)
ax_e = add_ax(43, 1097, 593, 1377)
ax_ep = add_ax(652.6, 1099, 1183, 1377)

style(ax_a, (-8.8, 184.8), [0, 50, 100, 150], [25, 75, 125, 175], ["0", "50", "100", "150"],
      11.5, 3.3, True)
for ax in (ax_b, ax_c):
    style(ax, (-6.3, 132.3), [0, 50, 100], [25, 75, 125], ["0", "50", "100"], 8.5, 2.2, False)
for ax in (ax_d, ax_e):
    style(ax, (-4.35, 91.35), [0, 25, 50, 75], [12.5, 37.5, 62.5, 87.5],
          ["0", "25", "50", "75"], 8.5, 2.2, False)
for ax in (ax_dp, ax_ep):
    style(ax, (-0.005, 0.105), [0, 0.025, 0.05, 0.075, 0.1],
          [0.0125, 0.0375, 0.0625, 0.0875],
          ["0.000", "0.025", "0.050", "0.075", "0.100"], 8.5, 2.2, False)

draw(ax_a, A_GRID, A, A_EUROPE, 1.1, 6.5)
draw(ax_b, BC_GRID, B, B_EUROPE, 0.85, 5.0)
draw(ax_c, BC_GRID, C, C_EUROPE, 0.85, 5.0)

M = 0.001
draw(ax_d, DP_GRID, DP, DP_EUROPE, 0.85, 5.0, scale=M, extra={
    "Latvia": [(DE_GRID, D_LATVIA, True, True, 1.0)],
    "Luxembourg": [(DAILY_20_80, DP_LUXEMBOURG, True, True, M)],
    "Malta": [(DAILY_20_80, DP_MALTA, True, True, M)]})
draw(ax_e, EP_GRID, EP, EP_EUROPE, 0.85, 5.0, scale=M, extra={
    "Latvia": [(DE_GRID, E_LATVIA, True, True, 1.0)],
    "Luxembourg": [(DAILY_20_80, EP_LUXEMBOURG, True, True, M)],
    "Malta": [(DAILY_20_80, EP_MALTA, True, True, M)]})
draw(ax_dp, DP_GRID, DP, DP_EUROPE, 0.85, 5.0, scale=M, extra={
    "Latvia": [(DP_LATVIA_EARLY_DAYS, DP_LATVIA_EARLY, True, False, M),
               (DP_LATVIA_LATE_DAYS, DP_LATVIA_LATE, False, False, M)],
    "Luxembourg": [(DAILY_20_80, DP_LUXEMBOURG, True, True, M)],
    "Malta": [(DAILY_20_80, DP_MALTA, True, True, M)]})
draw(ax_ep, EP_GRID, EP, EP_EUROPE, 0.85, 5.0, scale=M, extra={
    "Latvia": [(EP_LATVIA_EARLY_DAYS, EP_LATVIA_EARLY, True, False, M),
               (EP_LATVIA_LATE_DAYS, EP_LATVIA_LATE, False, False, M)],
    "Luxembourg": [(DAILY_20_80, EP_LUXEMBOURG, True, True, M)],
    "Malta": [(DAILY_20_80, EP_MALTA, True, True, M)]})

# ---------------- overlay for titles, labels and legend ----------------
ov = fig.add_axes([0, 0, 1, 1])
ov.set_xlim(0, W)
ov.set_ylim(H, 0)
ov.axis("off")
ov.patch.set_alpha(0)

YLAB = "New Transitions (per 1000)"
ov.text(22, 205, YLAB, rotation=90, ha="center", va="center", fontsize=16,
        fontweight="bold", family=SANS)
ov.text(451, 445.5, "Day", ha="center", va="baseline", fontsize=16, fontweight="bold",
        family=SANS)
for (x, y) in [(16, 597), (603, 597), (16, 916), (609.5, 917), (16, 1237), (609.5, 1238)]:
    ov.text(x, y, YLAB, rotation=90, ha="center", va="center", fontsize=11.2,
            fontweight="bold", family=SANS)
for (x, y) in [(316.5, 765), (902.5, 765), (318, 1085), (916.8, 1085), (318, 1406),
               (917.8, 1406)]:
    ov.text(x, y, "Day", ha="center", va="baseline", fontsize=11.3, fontweight="bold",
            family=SANS)

for (x, y, s) in [(86, 30, "(a)"), (73.5, 497, "(b)"), (676.4, 497, "(c)"),
                  (73.5, 816, "(d)"), (676.4, 815, "(d\u2019)"), (75, 1134, "(e)"),
                  (685, 1139.5, "(e\u2019)")]:
    ov.text(x, y, s, ha="left", va="center", fontsize=16, family=LABEL_FAMILY, color="black")

# legend
ov.text(853, 31.5, "Continent", ha="left", va="baseline", fontsize=14.4, fontweight="bold",
        family=SANS)
ov.add_patch(Rectangle((853, 43), 19, 19, fc="#F2F2F2", ec="none"))
ov.plot([862.5], [52.5], "o", color="black", ms=5.2, mew=0)
ov.text(882, 58, "Europe", ha="left", va="baseline", fontsize=11.6, family=SANS)
ov.text(853, 101.5, "Country", ha="left", va="baseline", fontsize=14.4, fontweight="bold",
        family=SANS)
for col, (kx, tx, names) in enumerate([(853, 882, COUNTRIES[:15]), (1004, 1032, COUNTRIES[15:])]):
    for i, name in enumerate(names):
        y = 124 + 19 * i
        ov.add_patch(Rectangle((kx, y - 9.5), 19, 19, fc="#F2F2F2", ec="none"))
        ov.plot([kx + 2.5, kx + 16.5], [y, y], color=COLORS[name], lw=1.6,
                solid_capstyle="butt")
        ov.text(tx, y + 5.8, name, ha="left", va="baseline", fontsize=11.6, family=SANS)

fig.savefig("out.png", dpi=100, facecolor="white")
